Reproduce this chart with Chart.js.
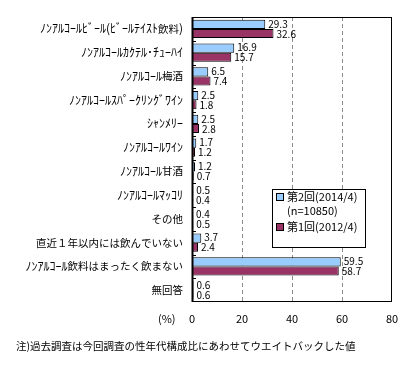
<!DOCTYPE html>
<html>
<head>
<meta charset="utf-8">
<script src="https://cdn.jsdelivr.net/npm/chart.js@4"></script>
<style>
  html, body { margin: 0; padding: 0; background: #fff; }
  #wrap { width: 419px; height: 374px; position: relative; }
</style>
</head>
<body>
<div id="wrap"><canvas id="chart" width="419" height="374"></canvas></div>
<script>
// データ
const categories = [
    'ﾉﾝｱﾙｺｰﾙﾋﾞｰﾙ(ﾋﾞｰﾙﾃｲｽﾄ飲料)',
    'ﾉﾝｱﾙｺｰﾙｶｸﾃﾙ･ﾁｭｰﾊｲ',
    'ﾉﾝｱﾙｺｰﾙ梅酒',
    'ﾉﾝｱﾙｺｰﾙｽﾊﾟｰｸﾘﾝｸﾞﾜｲﾝ',
    'ｼｬﾝﾒﾘｰ',
    'ﾉﾝｱﾙｺｰﾙﾜｲﾝ',
    'ﾉﾝｱﾙｺｰﾙ甘酒',
    'ﾉﾝｱﾙｺｰﾙﾏｯｺﾘ',
    'その他',
    '直近１年以内には飲んでいない',
    'ﾉﾝｱﾙｺｰﾙ飲料はまったく飲まない',
    '無回答'
];
const round2 = [29.3, 16.9, 6.5, 2.5, 2.5, 1.7, 1.2, 0.5, 0.4, 3.7, 59.5, 0.6];
const round1 = [32.6, 15.7, 7.4, 1.8, 2.8, 1.2, 0.7, 0.4, 0.5, 2.4, 58.7, 0.6];
const xTicks = [0, 20, 40, 60, 80];
const legendLines = ['第2回(2014/4)', '(n=10850)', '第1回(2012/4)'];
const footnote = '注)過去調査は今回調査の性年代構成比にあわせてウエイトバックした値';

const FONT = '"Noto Sans CJK JP", "Noto Sans", sans-serif';
const BLUE = '#99ccff';
const RED = '#993366';

// 半角カナ・ASCII は少し大きめのフォントで描く（元図の半角幅に合わせる）
function drawMixed(ctx, text, rightX, y) {
    const isHalf = ch => /[\u0020-\u007E\uFF61-\uFF9F]/.test(ch);
    const runs = [];
    for (const ch of text) {
        const h = isHalf(ch);
        if (runs.length && runs[runs.length - 1].h === h) runs[runs.length - 1].t += ch;
        else runs.push({ h, t: ch });
    }
    let total = 0;
    runs.forEach(r => {
        ctx.font = (r.h ? '12px ' : '10.5px ') + FONT;
        r.w = ctx.measureText(r.t).width;
        total += r.w;
    });
    let x = rightX - total;
    runs.forEach(r => {
        ctx.font = (r.h ? '12px ' : '10.5px ') + FONT;
        ctx.fillText(r.t, x, y);
        x += r.w;
    });
}

// グリッド線（点線）
const gridLines = {
    id: 'gridLines',
    beforeDatasetsDraw(chart) {
        const ctx = chart.ctx;
        const a = chart.chartArea;
        const xs = chart.scales.x;
        ctx.save();
        ctx.strokeStyle = '#8c8c8c';
        ctx.lineWidth = 1;
        ctx.setLineDash([4, 3]);
        xTicks.slice(1, -1).forEach(v => {
            const x = Math.round(xs.getPixelForValue(v)) + 0.5;
            ctx.beginPath();
            ctx.moveTo(x, a.top);
            ctx.lineTo(x, a.bottom);
            ctx.stroke();
        });
        ctx.restore();
    }
};

// 値ラベル・凡例・注記など
const extras = {
    id: 'extras',
    afterDatasetsDraw(chart) {
        const ctx = chart.ctx;
        const a = chart.chartArea;
        const ys = chart.scales.y;
        ctx.save();

        // 枠
        ctx.strokeStyle = '#000';
        ctx.lineWidth = 1;
        ctx.strokeRect(a.left + 0.5, a.top + 0.5, a.right - a.left - 1, a.bottom - a.top - 1);
        ctx.lineWidth = 2;
        ctx.beginPath();
        ctx.moveTo(a.left + 0.5, a.top);
        ctx.lineTo(a.left + 0.5, a.bottom);
        ctx.stroke();

        // 軸の小目盛
        ctx.lineWidth = 1;
        const step = (a.bottom - a.top) / categories.length;
        for (let i = 1; i < categories.length; i++) {
            const y = Math.round(a.top + i * step) + 0.5;
            ctx.beginPath();
            ctx.moveTo(a.left, y);
            ctx.lineTo(a.left + 4, y);
            ctx.stroke();
        }

        // 項目名
        ctx.fillStyle = '#000';
        ctx.textAlign = 'left';
        ctx.textBaseline = 'middle';
        categories.forEach((c, i) => drawMixed(ctx, c, 183, ys.getPixelForTick(i)));

        // 値ラベル
        ctx.font = '10px ' + FONT;
        chart.data.datasets.forEach((ds, di) => {
            chart.getDatasetMeta(di).data.forEach((bar, i) => {
                ctx.fillText(ds.data[i].toFixed(1), bar.x + 3, bar.y + (di === 0 ? -0.5 : 0.5));
            });
        });

        // 凡例
        const lx = 272, ly = 189, lw = 93, lh = 58;
        ctx.fillStyle = '#fff';
        ctx.fillRect(lx, ly, lw, lh);
        ctx.strokeStyle = '#000';
        ctx.strokeRect(lx + 0.5, ly + 0.5, lw, lh);
        ctx.font = '11px ' + FONT;
        const items = [[BLUE, legendLines[0], 197], [null, legendLines[1], 211], [RED, legendLines[2], 227]];
        items.forEach(([c, t, y]) => {
            if (c) {
                ctx.fillStyle = c;
                ctx.fillRect(276, y - 4, 8, 8);
                ctx.strokeRect(276.5, y - 3.5, 7, 7);
            }
            ctx.fillStyle = '#000';
            ctx.fillText(t, 287, y);
        });

        // (%) と注記
        ctx.font = '11px ' + FONT;
        ctx.fillText('(%)', 158, 319);
        ctx.font = '10.5px ' + FONT;
        ctx.fillText(footnote, 16, 346);
        ctx.restore();
    }
};

new Chart(document.getElementById('chart'), {
    type: 'bar',
    data: {
        labels: categories,
        datasets: [
            { label: legendLines[0], data: round2, backgroundColor: BLUE, borderColor: '#000', borderWidth: 1, borderSkipped: false },
            { label: legendLines[2], data: round1, backgroundColor: RED, borderColor: '#000', borderWidth: 1, borderSkipped: false }
        ]
    },
    options: {
        indexAxis: 'y',
        responsive: false,
        animation: false,
        categoryPercentage: 0.76,
        barPercentage: 1,
        layout: { padding: { top: 17, right: 27, left: 0, bottom: 0 } },
        plugins: {
            legend: { display: false },
            tooltip: { enabled: false }
        },
        scales: {
            x: {
                min: 0,
                max: 80,
                afterBuildTicks: s => { s.ticks = xTicks.map(v => ({ value: v })); },
                afterFit: s => { s.height = 72; },
                grid: { display: false, drawTicks: false },
                border: { display: false },
                ticks: {
                    padding: 10,
                    color: '#000',
                    font: { size: 11, family: FONT }
                }
            },
            y: {
                afterFit: s => { s.width = 192; },
                grid: { display: false, drawTicks: false },
                border: { display: false },
                ticks: { display: false, autoSkip: false }
            }
        }
    },
    plugins: [gridLines, extras]
});
</script>
</body>
</html>
